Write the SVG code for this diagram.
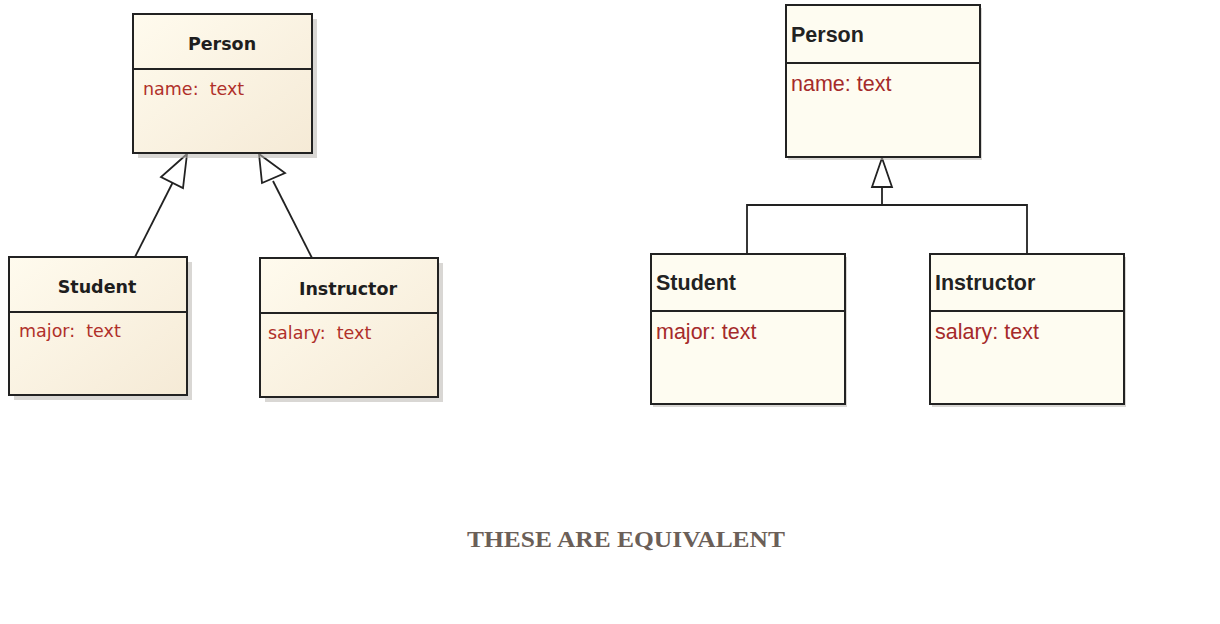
<svg xmlns="http://www.w3.org/2000/svg" width="1220" height="624" viewBox="0 0 1220 624">
<style>
.box{stroke:#222;stroke-width:2}
.lbox{fill:url(#lg)}
.rbox{fill:#fefcf1}
.div{stroke:#222;stroke-width:2}
.sh{fill:#b9b6b0;opacity:0.55}
.lt{font-family:"DejaVu Sans",sans-serif;font-weight:bold;font-size:17.5px;fill:#1e1e1e;text-anchor:middle}
.la{font-family:"DejaVu Sans",sans-serif;font-size:17.5px;fill:#b0302a}
.rt{font-family:"Liberation Sans",Arial,sans-serif;font-weight:bold;font-size:21.5px;fill:#222}
.ra{font-family:"Liberation Sans",Arial,sans-serif;font-size:21.5px;fill:#a52a2a}
.con{stroke:#222;stroke-width:1.8;fill:none}
.head{fill:#fff;stroke:#222;stroke-width:1.8;stroke-linejoin:miter}
.cap{font-family:"Liberation Serif",serif;font-weight:bold;font-size:23px;fill:#6b5f58}
</style>
<defs>
<linearGradient id="lg" x1="0" y1="0" x2="1" y2="1">
<stop offset="0" stop-color="#fffbee"/>
<stop offset="1" stop-color="#f5ead6"/>
</linearGradient>
</defs>
<rect width="1220" height="624" fill="#fff"/>

<g id="connectors">
<line class="con" x1="135" y1="257" x2="175" y2="178"/>
<polygon class="head" points="187,154 161,177 183,188"/>
<line class="con" x1="312" y1="258" x2="273" y2="181"/>
<polygon class="head" points="259,154 262,183 285,173"/>
<polygon class="head" points="882,158 872,187 892,187"/>
<polyline class="con" points="882,187 882,205"/>
<polyline class="con" points="747,253 747,205 1027,205 1027,253"/>
</g>

<g id="left-person">
<rect class="sh" x="138" y="19" width="179" height="139"/>
<rect class="box lbox" x="133" y="14" width="179" height="139"/>
<line class="div" x1="133" y1="69" x2="312" y2="69"/>
<text class="lt" x="222" y="50">Person</text>
<text class="la" x="143" y="95" xml:space="preserve">name:  text</text>
</g>

<g id="left-student">
<rect class="sh" x="14" y="262" width="178" height="138"/>
<rect class="box lbox" x="9" y="257" width="178" height="138"/>
<line class="div" x1="9" y1="312" x2="187" y2="312"/>
<text class="lt" x="97" y="293">Student</text>
<text class="la" x="19" y="337" xml:space="preserve">major:  text</text>
</g>

<g id="left-instructor">
<rect class="sh" x="265" y="263" width="178" height="139"/>
<rect class="box lbox" x="260" y="258" width="178" height="139"/>
<line class="div" x1="260" y1="313" x2="438" y2="313"/>
<text class="lt" x="348" y="295">Instructor</text>
<text class="la" x="268" y="339" xml:space="preserve">salary:  text</text>
</g>

<g id="right-person">
<rect class="sh" x="788" y="8" width="194" height="152" opacity="0.4"/>
<rect class="box rbox" x="786" y="5" width="194" height="152"/>
<line class="div" x1="786" y1="63" x2="980" y2="63"/>
<text class="rt" x="791" y="42">Person</text>
<text class="ra" x="791" y="91">name: text</text>
</g>

<g id="right-student">
<rect class="sh" x="653" y="257" width="194" height="150" opacity="0.4"/>
<rect class="box rbox" x="651" y="254" width="194" height="150"/>
<line class="div" x1="651" y1="311" x2="845" y2="311"/>
<text class="rt" x="656" y="290">Student</text>
<text class="ra" x="656" y="339">major: text</text>
</g>

<g id="right-instructor">
<rect class="sh" x="932" y="257" width="194" height="150" opacity="0.4"/>
<rect class="box rbox" x="930" y="254" width="194" height="150"/>
<line class="div" x1="930" y1="311" x2="1124" y2="311"/>
<text class="rt" x="935" y="290">Instructor</text>
<text class="ra" x="935" y="339">salary: text</text>
</g>

<text class="cap" x="467" y="547" textLength="318" lengthAdjust="spacingAndGlyphs">THESE ARE EQUIVALENT</text>
</svg>
